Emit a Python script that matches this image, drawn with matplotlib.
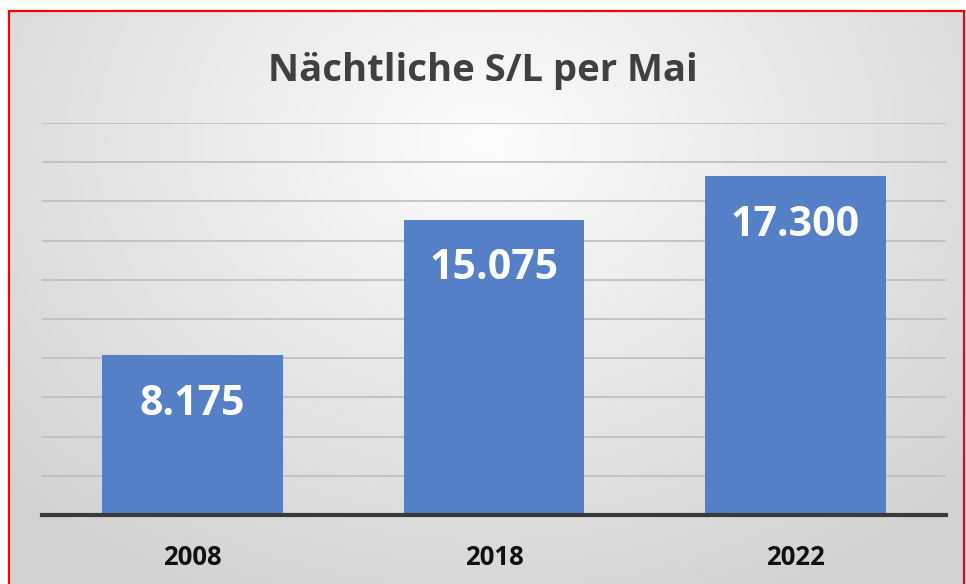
import numpy as np
import matplotlib.pyplot as plt
from matplotlib.patches import Rectangle

jahre = ["2008", "2018", "2022"]
werte = [8175, 15075, 17300]
labels = ["8.175", "15.075", "17.300"]

W, H = 966, 584
fig = plt.figure(figsize=(W / 100, H / 100), dpi=100)
fig.patch.set_facecolor("white")

# Hintergrund mit radialem Verlauf (innerhalb des roten Rahmens)
x0, y0, x1, y1 = 9, 11, 964, 584
bg = fig.add_axes([x0 / W, 1 - y1 / H, (x1 - x0) / W, (y1 - y0) / H], zorder=0)
xx, yy = np.meshgrid(np.linspace(-1, 1, 400), np.linspace(-1, 1, 250))
r = np.sqrt(xx ** 2 + ((yy + 0.55) / 1.3) ** 2)
g = 0.99 - 0.17 * np.clip(r, 0, 1.4) / 1.4
bg.imshow(np.dstack([g, g, g]), aspect="auto", extent=[0, 1, 0, 1], origin="upper")
bg.axis("off")

# Diagrammbereich
ax_l, ax_r, ax_t, ax_b = 42, 946, 123, 515
ax = fig.add_axes([ax_l / W, 1 - ax_b / H, (ax_r - ax_l) / W, (ax_b - ax_t) / H], zorder=1)
ax.patch.set_alpha(0)

pos = np.arange(len(jahre))
balken = ax.bar(pos, werte, width=0.6, color="#5580C8", zorder=2)
ax.set_xlim(-0.5, 2.5)
ax.set_ylim(0, 20000)
ax.set_yticks(np.arange(0, 20001, 2000))
ax.yaxis.grid(True, color="#BDBDBD", linewidth=1.2, zorder=0)
ax.set_axisbelow(True)
for s in ["top", "right", "left"]:
    ax.spines[s].set_visible(False)
ax.spines["bottom"].set_color("#3A3A3A")
ax.spines["bottom"].set_linewidth(3)
ax.spines["bottom"].set_zorder(3)
ax.tick_params(axis="y", left=False, labelleft=False)
ax.tick_params(axis="x", length=0, pad=21)
ax.set_xticks(pos)
ax.set_xticklabels(jahre, fontsize=18.5, fontweight="bold", color="#111111", family="Open Sans")

for b, txt in zip(balken, labels):
    ax.annotate(txt, (b.get_x() + b.get_width() / 2, b.get_height()),
                xytext=(0, -35.5), textcoords="offset points", ha="center", va="center",
                fontsize=29.5, fontweight="bold", color="white", family="Open Sans", zorder=4)

fig.text(483 / W, 1 - 81 / H, "Nächtliche S/L per Mai", ha="center", va="baseline",
         fontsize=27.5, fontweight="bold", color="#404040", family="Open Sans")

# roter Rahmen
fig.patches.append(Rectangle((x0 / W, -0.01), (x1 - x0) / W, 1 - y0 / H + 0.01,
                             transform=fig.transFigure, fill=False, edgecolor="red",
                             linewidth=1.6, zorder=5))

plt.savefig("out.png", dpi=100)
